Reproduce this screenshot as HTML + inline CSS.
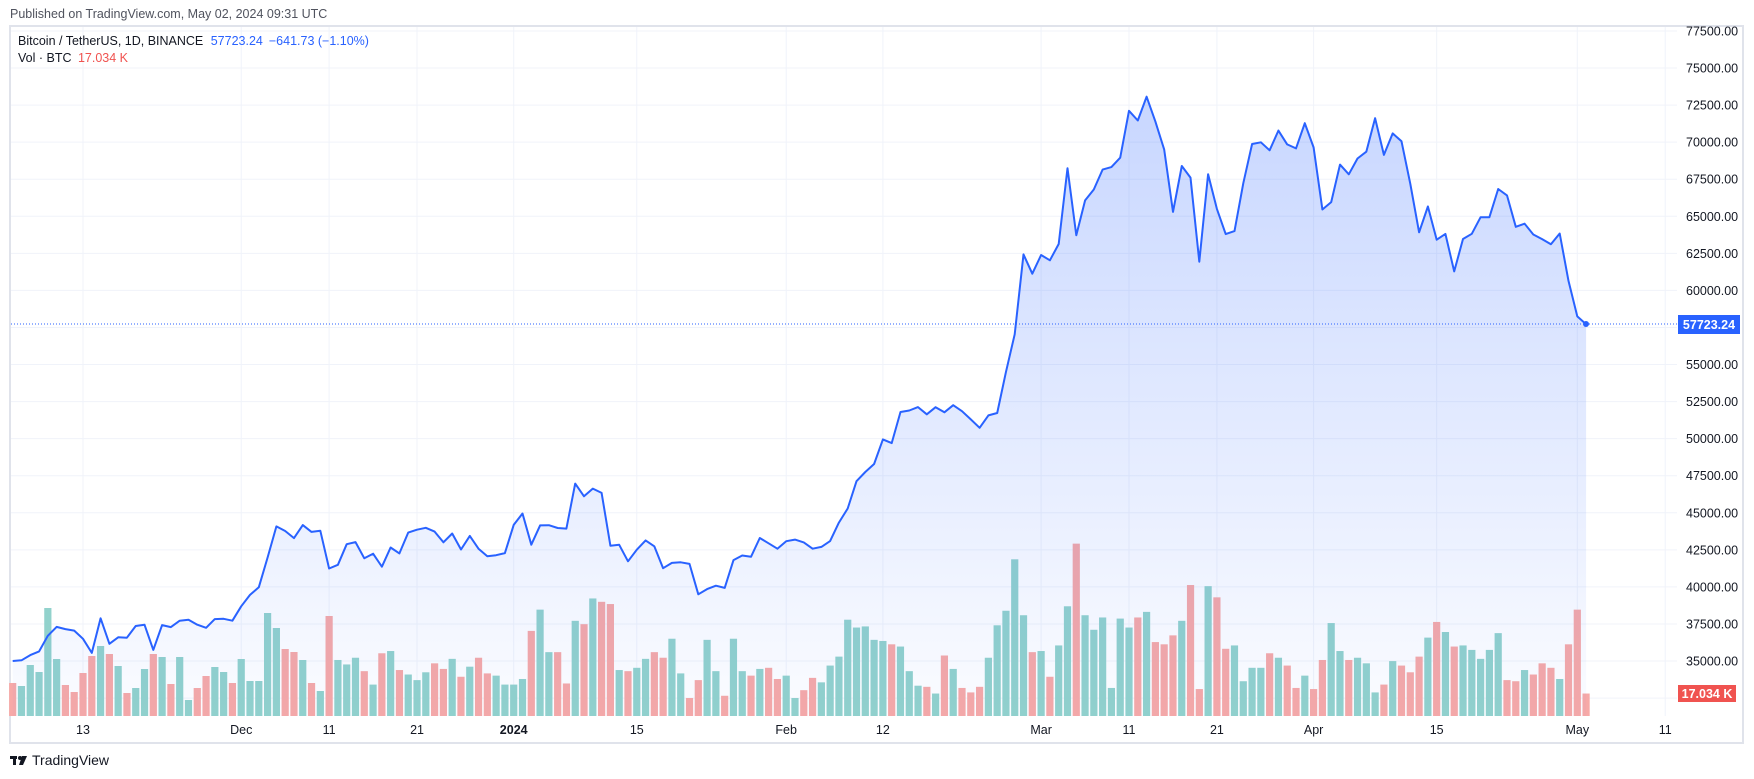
<!DOCTYPE html>
<html><head><meta charset="utf-8">
<style>
html,body{margin:0;padding:0;background:#fff;width:1754px;height:779px;overflow:hidden}
svg text{font-family:"Liberation Sans",sans-serif}
</style></head>
<body>
<svg id="s" width="1754" height="779" xmlns="http://www.w3.org/2000/svg">
<defs>
<linearGradient id="g" x1="0" y1="90" x2="0" y2="716" gradientUnits="userSpaceOnUse">
<stop offset="0" stop-color="#2962ff" stop-opacity="0.26"/>
<stop offset="1" stop-color="#2962ff" stop-opacity="0.02"/>
</linearGradient>
</defs>
<rect x="0" y="0" width="1754" height="779" fill="#fff"/>
<text x="10" y="18" font-size="12.5" fill="#50535e">Published on TradingView.com, May 02, 2024 09:31 UTC</text>
<rect x="10" y="26" width="1733" height="717" fill="none" stroke="#e0e3eb" stroke-width="2"/>
<g id="grid"></g>
<g id="vol"></g>
<path id="area" fill="url(#g)"/>
<path id="line" fill="none" stroke="#2962ff" stroke-width="2" stroke-linejoin="round"/>
<line x1="11" x2="1677" y1="324" y2="324" stroke="#2962ff" stroke-width="1" stroke-dasharray="1,2"/>
<circle cx="1586" cy="324" r="3" fill="#2962ff"/>
<g id="labels" font-size="12.5" fill="#131722"></g>
<rect x="1678" y="315" width="62" height="19" fill="#2962ff"/>
<text x="1709" y="329" font-size="12.5" font-weight="bold" fill="#fff" text-anchor="middle">57723.24</text>
<rect x="1678" y="685" width="58" height="17" fill="#f05350"/>
<text x="1707" y="698" font-size="12.5" font-weight="bold" fill="#fff" text-anchor="middle">17.034 K</text>
<text x="18" y="45" font-size="12.5" fill="#131722">Bitcoin / TetherUS, 1D, BINANCE <tspan fill="#2962ff" dx="4">57723.24</tspan><tspan fill="#2962ff" dx="6">−641.73 (−1.10%)</tspan></text>
<text x="18" y="62" font-size="12.5" fill="#131722">Vol · BTC <tspan fill="#f05350" dx="3">17.034 K</tspan></text>
<g transform="translate(10,752)">
<rect x="0" y="4" width="7" height="3" fill="#131722"/><rect x="3" y="4" width="3" height="9" fill="#131722"/>
<circle cx="10" cy="6" r="2" fill="#131722"/><path d="M12 4 L17 4 L13 13 L9 13 Z" fill="#131722"/>
<text x="22" y="13" font-size="14" fill="#131722">TradingView</text>
</g>
</svg>
<script>
var P=[35000,35050,35400,35650,36700,37300,37150,37050,36500,35550,37880,36160,36600,36570,37360,37450,35750,37420,37290,37720,37790,37450,37240,37830,37850,37720,
38690,39460,39970,41980,44080,43770,43290,44170,43710,43790,41240,41490,42880,43020,41930,42240,41360,42660,42260,43660,43860,43990,43730,43010,43600,42520,43440,42580,42070,42140,42280,
44180,44950,42850,44150,44160,43970,43930,46970,46110,46630,46340,42780,42840,41730,42510,43140,42740,41260,41620,41660,41550,39500,39850,40080,39930,41810,42120,42030,43300,42940,42580,
43080,43190,43000,42580,42700,43090,44340,45290,47130,47750,48290,49950,49700,51800,51900,52130,51640,52120,51780,52260,51850,51300,50730,51570,51730,54480,57040,62430,61130,
62390,62030,63130,68240,63720,66070,66810,68150,68320,68950,72120,71460,73070,71390,69500,65300,68390,67610,61940,67840,65500,63800,64000,67230,69880,69990,69450,70780,69850,69580,71280,
69650,65460,65960,68490,67830,68900,69360,71620,69140,70590,70060,67190,63920,65660,63420,63810,61280,63470,63820,64940,64940,66840,66410,64290,64500,63770,63460,63120,63840,60640,58250,57723];
var realTops=[683,686,665,672,608,659,685,692,673,656,646,654,666,693,688,669,654,657,684,657,700,688,676,667,672,683,659,681,681,613,628,649,652,660,683,691,616];
var disp=[590,594,588,600,612,584,582,599,603,608,601,593,598,589,605,596,588,602,604,612,
612,607,564,545,583,583,611,555,558,535,538,540,599,600,597,589,583,588,571,602,624,608,572,600,622,571,600,604,598,597,607,
604,624,617,606,610,595,587,554,561,560,572,573,576,578,600,613,614,620,586,598,615,619,614,588,559,546,500,550,583,
582,605,577,542,486,550,563,552,615,553,561,552,547,574,576,568,555,523,616,524,534,580,577,609,597,597,584,588,595,615,604,
616,590,557,582,590,588,593,619,612,591,595,601,587,570,556,565,578,577,581,589,581,566,608,609,599,603,593,597,607,576,545,620];
var tops=realTops.concat(disp.map(function(d){return d*1.1186;}));
function X(i){return 83+(i-8)*8.79;}
function Y(v){return 31+(77500-v)/2500*37.06;}
var ns="http://www.w3.org/2000/svg";
function el(p,t,a,txt){var e=document.createElementNS(ns,t);for(var k in a)e.setAttribute(k,a[k]);if(txt!=null)e.textContent=txt;p.appendChild(e);return e;}
var grid=document.getElementById('grid'),lab=document.getElementById('labels'),vol=document.getElementById('vol');
for(var v=77500;v>=32500;v-=2500){var y=Y(v);el(grid,'line',{x1:11,x2:1677,y1:y,y2:y,stroke:'#f0f3fa','stroke-width':1});
 if(v>=37500||v==35000)el(lab,'text',{x:1686,y:y+4.5},v.toFixed(2));}
var ticks=[[8,'13'],[26,'Dec'],[36,'11'],[46,'21'],[57,'2024'],[71,'15'],[88,'Feb'],[99,'12'],[117,'Mar'],[127,'11'],[137,'21'],[148,'Apr'],[162,'15'],[178,'May'],[188,'11']];
ticks.forEach(function(t){var x=X(t[0]);el(grid,'line',{x1:x,x2:x,y1:27,y2:716,stroke:'#f0f3fa','stroke-width':1});
 el(lab,'text',{x:x,y:734,'text-anchor':'middle','font-weight':t[1]=='2024'?'bold':'normal'},t[1]);});
for(var i=0;i<P.length;i++){var t=tops[i]||700;var up=i==0?false:P[i]>=P[i-1];
 el(vol,'rect',{x:X(i)-3.6,y:t,width:7.2,height:716-t,fill:up?'#92d2cc':'#f7a9a7'});}
var d='';for(var i=0;i<P.length;i++)d+=(i?'L':'M')+X(i).toFixed(1)+' '+Y(P[i]).toFixed(1);
document.getElementById('line').setAttribute('d',d);
document.getElementById('area').setAttribute('d',d+'L'+X(P.length-1).toFixed(1)+' 716L'+X(0).toFixed(1)+' 716Z');
</script>
</body></html>
